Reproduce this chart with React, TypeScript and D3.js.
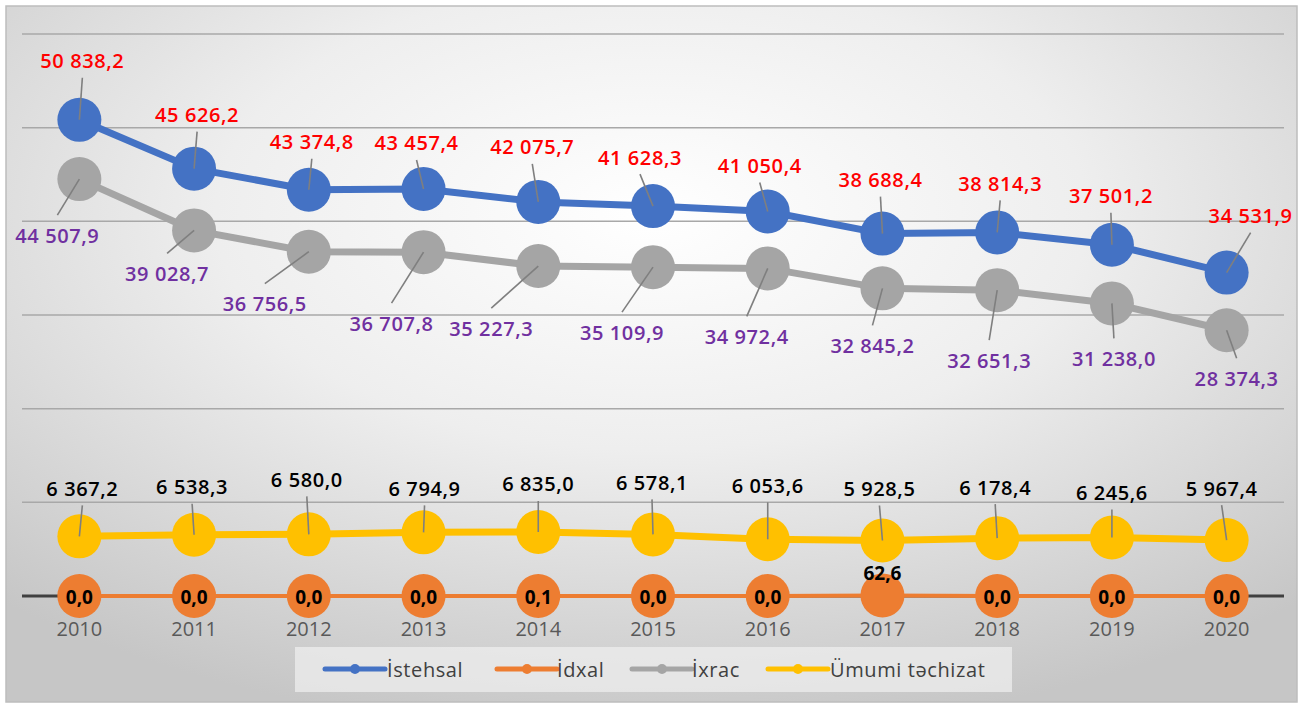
import React from "react";
import * as d3 from "d3";

const years = ["2010", "2011", "2012", "2013", "2014", "2015", "2016", "2017", "2018", "2019", "2020"];
const istehsal = [50838.2, 45626.2, 43374.8, 43457.4, 42075.7, 41628.3, 41050.4, 38688.4, 38814.3, 37501.2, 34531.9];
const idxal = [0, 0, 0, 0, 0.1, 0, 0, 62.6, 0, 0, 0];
const ixrac = [44507.9, 39028.7, 36756.5, 36707.8, 35227.3, 35109.9, 34972.4, 32845.2, 32651.3, 31238.0, 28374.3];
const umumi = [6367.2, 6538.3, 6580.0, 6794.9, 6835.0, 6578.1, 6053.6, 5928.5, 6178.4, 6245.6, 5967.4];
const yTicks = [0, 10000, 20000, 30000, 40000, 50000, 60000];
const seriesNames = ["İstehsal", "İdxal", "İxrac", "Ümumi təchizat"];

// label placement offsets (layout only)
const blueOff = [[3, -59], [3, -54], [3, -48], [-7, -46], [-6, -55], [-13, -49], [-8, -46], [-2, -54], [3, -49], [-1, -49], [24, -57]];
const grayOff = [[-22, 56], [-27, 43], [-44, 52], [-32, 71], [-47, 62], [-31, 65], [-21, 68], [-10, 57], [-8, 70], [2, 55], [10, 48]];
const yellowOff = [[3, -48], [-2, -48], [-2, -55], [1, -44], [0, -48], [-1, -52], [0, -54], [-3, -52], [-2, -51], [0, -45], [-5, -52]];
const orangeOff = [[0, 1], [0, 1], [0, 1], [0, 1], [0, 1], [0, 1], [0, 1], [0, -22], [0, 1], [0, 1], [0, 1]];

const W = 1303, H = 706;
const C = { blue: "#4472c4", orange: "#ed7d31", gray: "#a5a5a5", yellow: "#ffc000" };
const FONT = "'Open Sans', 'Noto Sans', sans-serif";

const loc = d3.formatLocale({ decimal: ",", thousands: " ", grouping: [3], currency: ["", ""] });
const fmt = loc.format(",.1f");

export default function App() {
  const x = d3.scaleBand<string>().domain(years).range([22, 1284]);
  const cx = (i: number) => (x(years[i]) as number) + x.bandwidth() / 2;
  const y = d3.scaleLinear().domain([0, 60000]).range([596, 34]);
  const line = d3.line<number>().x((_, i) => cx(i)).y((v) => y(v));
  const R = 22;

  const series = [
    { vals: ixrac, color: C.gray, lw: 7, off: grayOff, tc: "#7030a0" },
    { vals: istehsal, color: C.blue, lw: 7, off: blueOff, tc: "#ff0000" },
    { vals: umumi, color: C.yellow, lw: 7, off: yellowOff, tc: "#000000" },
  ];

  const legendItems = [
    { name: seriesNames[0], color: C.blue, x0: 325, tx: 387 },
    { name: seriesNames[1], color: C.orange, x0: 497, tx: 557 },
    { name: seriesNames[2], color: C.gray, x0: 632, tx: 692 },
    { name: seriesNames[3], color: C.yellow, x0: 768, tx: 830 },
  ];

  return (
    <svg width={W} height={H} style={{ position: "absolute", left: 0, top: 0 }} fontFamily={FONT}>
      <defs>
        <radialGradient id="bg" cx="50%" cy="30%" r="75%">
          <stop offset="0%" stopColor="#ffffff" />
          <stop offset="45%" stopColor="#eeeeee" />
          <stop offset="100%" stopColor="#c6c6c6" />
        </radialGradient>
      </defs>
      <rect x={0} y={0} width={W} height={H} fill="#ffffff" />
      <rect x={6} y={6} width={1291} height={696} fill="url(#bg)" stroke="#bdbdbd" strokeWidth={1.5} />

      {yTicks.slice(1).map((t) => (
        <line key={t} x1={22} x2={1284} y1={y(t)} y2={y(t)} stroke="#a8a8a8" strokeWidth={1.5} />
      ))}
      <line x1={22} x2={1284} y1={y(0)} y2={y(0)} stroke="#404040" strokeWidth={3} />

      {/* lines */}
      {series.map((s, k) => (
        <path key={k} d={line(s.vals) || ""} fill="none" stroke={s.color} strokeWidth={s.lw} strokeLinejoin="round" />
      ))}
      <path d={line(idxal) || ""} fill="none" stroke={C.orange} strokeWidth={4} />

      {/* markers */}
      {series.map((s, k) =>
        s.vals.map((v, i) => <circle key={`${k}-${i}`} cx={cx(i)} cy={y(v)} r={R} fill={s.color} />)
      )}
      {idxal.map((v, i) => (
        <circle key={`o-${i}`} cx={cx(i)} cy={y(v)} r={R} fill={C.orange} />
      ))}

      {/* leader lines */}
      {series.map((s, k) =>
        s.vals.map((v, i) => {
          const [dx, dy] = s.off[i];
          const px = cx(i), py = y(v);
          const ey = py + dy + (dy < 0 ? 17 : -20);
          return <line key={`l-${k}-${i}`} x1={px} y1={py} x2={px + dx} y2={ey} stroke="#7f7f7f" strokeWidth={1.6} />;
        })
      )}

      {/* labels */}
      {series.map((s, k) =>
        s.vals.map((v, i) => {
          const [dx, dy] = s.off[i];
          return (
            <text key={`t-${k}-${i}`} x={cx(i) + dx} y={y(v) + dy} textAnchor="middle" dominantBaseline="central"
              fontSize={20} fontWeight={600} letterSpacing={0.6} fill={s.tc}>
              {fmt(v)}
            </text>
          );
        })
      )}
      {idxal.map((v, i) => {
        const [dx, dy] = orangeOff[i];
        return (
          <text key={`to-${i}`} x={cx(i) + dx} y={y(v) + dy} textAnchor="middle" dominantBaseline="central"
            fontSize={19} fontWeight={700} fill="#000">
            {fmt(v)}
          </text>
        );
      })}

      {/* x axis labels */}
      {years.map((yr, i) => (
        <text key={yr} x={cx(i)} y={628} textAnchor="middle" dominantBaseline="central" fontSize={20} fill="#595959">
          {yr}
        </text>
      ))}

      {/* legend */}
      <rect x={295} y={647} width={717} height={45} fill="#eeeeee" opacity={0.75} />
      {legendItems.map((it) => (
        <g key={it.name}>
          <line x1={it.x0} x2={it.x0 + 60} y1={669} y2={669} stroke={it.color} strokeWidth={5} strokeLinecap="round" />
          <circle cx={it.x0 + 30} cy={669} r={5} fill={it.color} />
          <text x={it.tx} y={669} dominantBaseline="central" fontSize={20} letterSpacing={0.6} fill="#404040">{it.name}</text>
        </g>
      ))}
    </svg>
  );
}
